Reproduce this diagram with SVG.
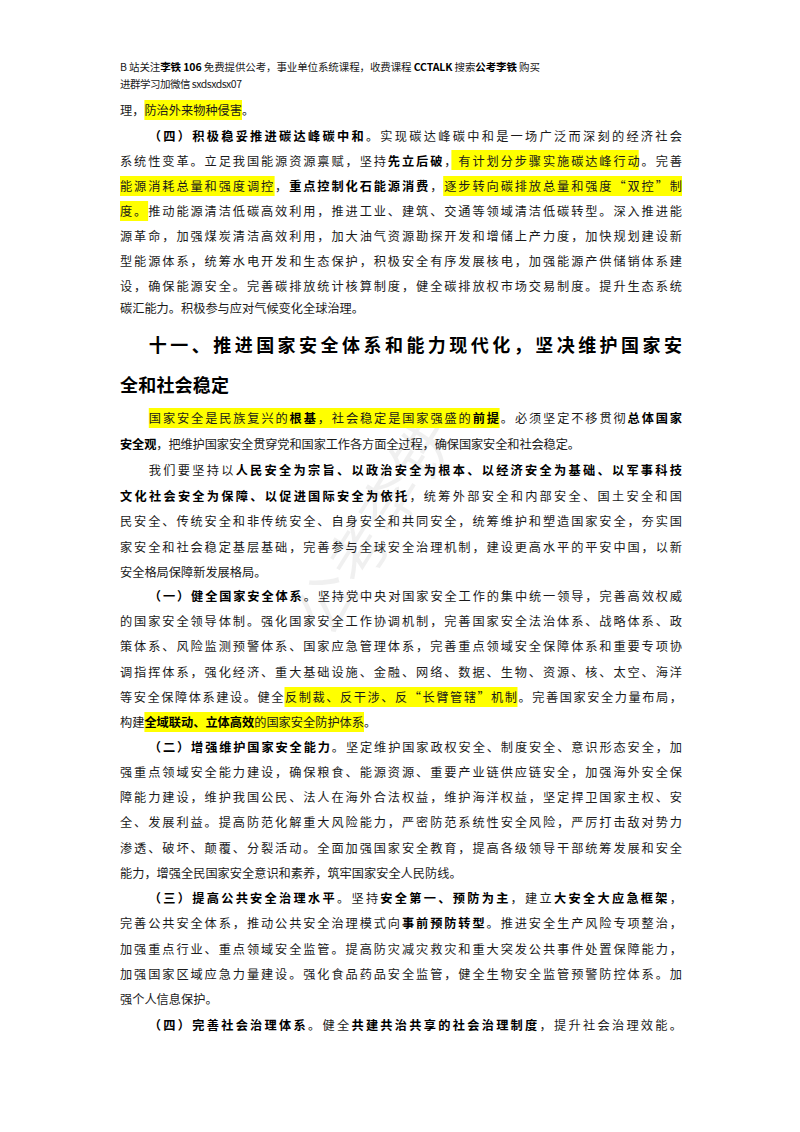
<svg xmlns="http://www.w3.org/2000/svg" width="800" height="1132" viewBox="0 0 800 1132">
<style>
text{font-family:"Noto Sans CJK SC","Liberation Sans",sans-serif;fill:#1a1a1a;font-size:12.2px}
.b{font-weight:700;fill:#000}
.h{font-size:18px;font-weight:700;fill:#000}
.s{font-size:10.5px}
.hl{fill:#ffff00}
.wm{font-size:60px;fill:#000;fill-opacity:0.06}
</style>
<rect width="800" height="1132" fill="#fff"/>
<g id="watermark"><text class="wm" x="0" y="0" transform="translate(330,640) rotate(-58)">公考李铁</text></g>
<g id="highlights">
<rect class="hl" x="144.4" y="100" width="97.6" height="20"/>
<rect class="hl" x="451.4" y="150" width="187.3" height="20"/>
<rect class="hl" x="120" y="176" width="154.6" height="20"/>
<rect class="hl" x="443.2" y="176" width="238.8" height="20"/>
<rect class="hl" x="120" y="201" width="28.1" height="20"/>
<rect class="hl" x="148.8" y="408" width="350.8" height="20"/>
<rect class="hl" x="284.5" y="687" width="233" height="20"/>
<rect class="hl" x="144.4" y="712" width="219.6" height="20"/>
</g>
<g id="header">
<text class="s" x="120" y="71" textLength="420" lengthAdjust="spacing">B 站关注<tspan class="b">李铁 106</tspan> 免费提供公考，事业单位系统课程，收费课程 <tspan class="b">CCTALK</tspan> 搜索<tspan class="b">公考李铁</tspan> 购买</text>
<text class="s" x="120" y="88" textLength="122" lengthAdjust="spacing">进群学习加微信 sxdsxdsx07</text>
</g>
<g id="sec1">
<text x="120" y="114.5" textLength="134.2" lengthAdjust="spacing">理，防治外来物种侵害。</text>
<text x="148.8" y="140.5" textLength="533.2" lengthAdjust="spacing"><tspan class="b">（四）积极稳妥推进碳达峰碳中和</tspan>。实现碳达峰碳中和是一场广泛而深刻的经济社会</text>
<text x="120" y="165.5" textLength="562" lengthAdjust="spacing">系统性变革。立足我国能源资源禀赋，坚持<tspan class="b">先立后破</tspan>，有计划分步骤实施碳达峰行动。完善</text>
<text x="120" y="190.5" textLength="562" lengthAdjust="spacing">能源消耗总量和强度调控，<tspan class="b">重点控制化石能源消费</tspan>，逐步转向碳排放总量和强度“双控”制</text>
<text x="120" y="215.5" textLength="562" lengthAdjust="spacing">度。推动能源清洁低碳高效利用，推进工业、建筑、交通等领域清洁低碳转型。深入推进能</text>
<text x="120" y="240.5" textLength="562" lengthAdjust="spacing">源革命，加强煤炭清洁高效利用，加大油气资源勘探开发和增储上产力度，加快规划建设新</text>
<text x="120" y="265.5" textLength="562" lengthAdjust="spacing">型能源体系，统筹水电开发和生态保护，积极安全有序发展核电，加强能源产供储销体系建</text>
<text x="120" y="290.5" textLength="562" lengthAdjust="spacing">设，确保能源安全。完善碳排放统计核算制度，健全碳排放权市场交易制度。提升生态系统</text>
<text x="120" y="312.5" textLength="244" lengthAdjust="spacing">碳汇能力。积极参与应对气候变化全球治理。</text>
</g>
<g id="heading">
<text class="h" x="148.8" y="352" textLength="533.2" lengthAdjust="spacing">十一、推进国家安全体系和能力现代化，坚决维护国家安</text>
<text class="h" x="120" y="392" textLength="109" lengthAdjust="spacing">全和社会稳定</text>
</g>
<g id="sec2">
<text x="148.8" y="422.5" textLength="533.2" lengthAdjust="spacing">国家安全是民族复兴的<tspan class="b">根基</tspan>，社会稳定是国家强盛的<tspan class="b">前提</tspan>。必须坚定不移贯彻<tspan class="b">总体国家</tspan></text>
<text x="120" y="448.5" textLength="460" lengthAdjust="spacing"><tspan class="b">安全观</tspan>，把维护国家安全贯穿党和国家工作各方面全过程，确保国家安全和社会稳定。</text>
<text x="148.8" y="474.5" textLength="533.2" lengthAdjust="spacing">我们要坚持以<tspan class="b">人民安全为宗旨、以政治安全为根本、以经济安全为基础、以军事科技</tspan></text>
<text x="120" y="500.5" textLength="562" lengthAdjust="spacing"><tspan class="b">文化社会安全为保障、以促进国际安全为依托</tspan>，统筹外部安全和内部安全、国土安全和国</text>
<text x="120" y="525.5" textLength="562" lengthAdjust="spacing">民安全、传统安全和非传统安全、自身安全和共同安全，统筹维护和塑造国家安全，夯实国</text>
<text x="120" y="551.5" textLength="562" lengthAdjust="spacing">家安全和社会稳定基层基础，完善参与全球安全治理机制，建设更高水平的平安中国，以新</text>
<text x="120" y="576.5" textLength="146.4" lengthAdjust="spacing">安全格局保障新发展格局。</text>
</g>
<g id="sec3">
<text x="148.8" y="600.5" textLength="533.2" lengthAdjust="spacing"><tspan class="b">（一）健全国家安全体系</tspan>。坚持党中央对国家安全工作的集中统一领导，完善高效权威</text>
<text x="120" y="625.5" textLength="562" lengthAdjust="spacing">的国家安全领导体制。强化国家安全工作协调机制，完善国家安全法治体系、战略体系、政</text>
<text x="120" y="650.5" textLength="562" lengthAdjust="spacing">策体系、风险监测预警体系、国家应急管理体系，完善重点领域安全保障体系和重要专项协</text>
<text x="120" y="676.5" textLength="562" lengthAdjust="spacing">调指挥体系，强化经济、重大基础设施、金融、网络、数据、生物、资源、核、太空、海洋</text>
<text x="120" y="701.5" textLength="562" lengthAdjust="spacing">等安全保障体系建设。健全反制裁、反干涉、反“长臂管辖”机制。完善国家安全力量布局，</text>
<text x="120" y="726.5" textLength="256.2" lengthAdjust="spacing">构建<tspan class="b">全域联动、立体高效</tspan>的国家安全防护体系。</text>
<text x="148.8" y="751.5" textLength="533.2" lengthAdjust="spacing"><tspan class="b">（二）增强维护国家安全能力</tspan>。坚定维护国家政权安全、制度安全、意识形态安全，加</text>
<text x="120" y="776.5" textLength="562" lengthAdjust="spacing">强重点领域安全能力建设，确保粮食、能源资源、重要产业链供应链安全，加强海外安全保</text>
<text x="120" y="801.5" textLength="562" lengthAdjust="spacing">障能力建设，维护我国公民、法人在海外合法权益，维护海洋权益，坚定捍卫国家主权、安</text>
<text x="120" y="826.5" textLength="562" lengthAdjust="spacing">全、发展利益。提高防范化解重大风险能力，严密防范系统性安全风险，严厉打击敌对势力</text>
<text x="120" y="852.5" textLength="562" lengthAdjust="spacing">渗透、破坏、颠覆、分裂活动。全面加强国家安全教育，提高各级领导干部统筹发展和安全</text>
<text x="120" y="877.5" textLength="341.6" lengthAdjust="spacing">能力，增强全民国家安全意识和素养，筑牢国家安全人民防线。</text>
<text x="148.8" y="902.5" textLength="533.2" lengthAdjust="spacing"><tspan class="b">（三）提高公共安全治理水平</tspan>。坚持<tspan class="b">安全第一、预防为主</tspan>，建立<tspan class="b">大安全大应急框架</tspan>，</text>
<text x="120" y="927.5" textLength="562" lengthAdjust="spacing">完善公共安全体系，推动公共安全治理模式向<tspan class="b">事前预防转型</tspan>。推进安全生产风险专项整治，</text>
<text x="120" y="953.5" textLength="562" lengthAdjust="spacing">加强重点行业、重点领域安全监管。提高防灾减灾救灾和重大突发公共事件处置保障能力，</text>
<text x="120" y="978.5" textLength="562" lengthAdjust="spacing">加强国家区域应急力量建设。强化食品药品安全监管，健全生物安全监管预警防控体系。加</text>
<text x="120" y="1003.5" textLength="97.6" lengthAdjust="spacing">强个人信息保护。</text>
<text x="148.8" y="1029.5" textLength="533.2" lengthAdjust="spacing"><tspan class="b">（四）完善社会治理体系</tspan>。健全<tspan class="b">共建共治共享的社会治理制度</tspan>，提升社会治理效能。</text>
</g>
</svg>
